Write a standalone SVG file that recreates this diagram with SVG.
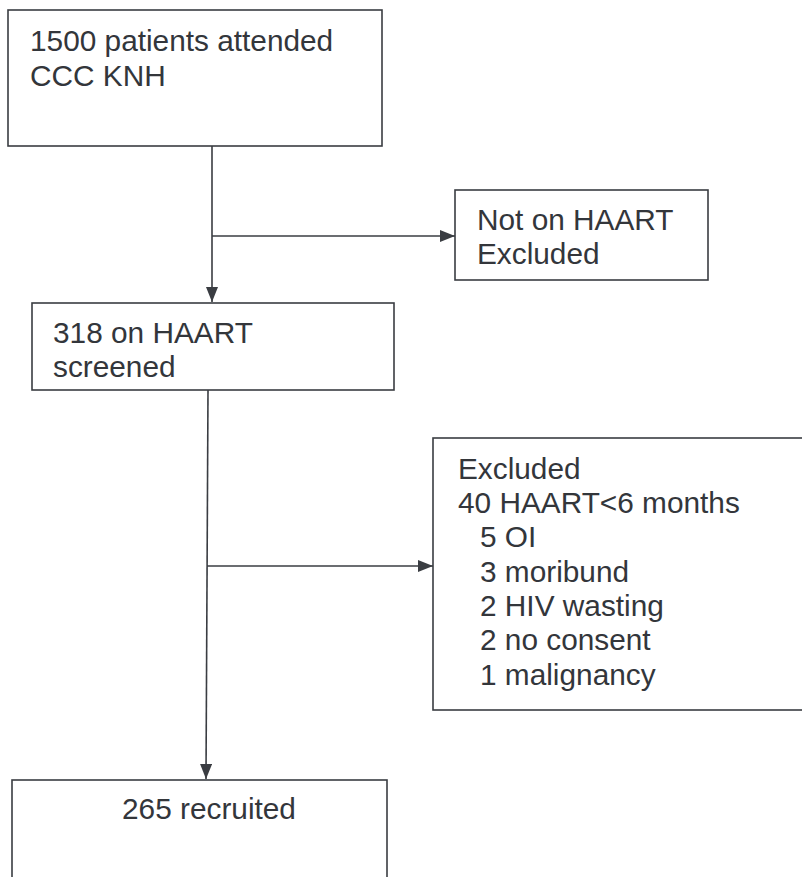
<svg xmlns="http://www.w3.org/2000/svg" width="802" height="877" viewBox="0 0 802 877">
<defs>
<style>
.box{fill:none;stroke:#3a3d42;stroke-width:1.6}
.t{font-family:"Liberation Sans",Arial,sans-serif;font-size:29.8px;fill:#33363b}
.c{fill:none;stroke:#3a3d42;stroke-width:1.6}
</style>
<marker id="ah" markerWidth="16" markerHeight="12" refX="15" refY="6" orient="auto" markerUnits="userSpaceOnUse">
<path d="M0,0 L15,6 L0,12 Z" fill="#3a3d42"/>
</marker>
</defs>
<rect width="802" height="877" fill="#ffffff"/>
<g id="connectors">
<path class="c" d="M212,146 L212,302" marker-end="url(#ah)"/>
<path class="c" d="M212,236 L455,236" marker-end="url(#ah)"/>
<path class="c" d="M208,390 L206,779" marker-end="url(#ah)"/>
<path class="c" d="M207,566 L433,566" marker-end="url(#ah)"/>
</g>
<g id="n1">
<rect class="box" x="8" y="10" width="374" height="136"/>
<text class="t" x="30" y="51">1500 patients attended</text>
<text class="t" x="30" y="86">CCC KNH</text>
</g>
<g id="n2">
<rect class="box" x="455" y="190" width="253" height="90"/>
<text class="t" x="477" y="230">Not on HAART</text>
<text class="t" x="477" y="264">Excluded</text>
</g>
<g id="n3">
<rect class="box" x="32" y="303" width="362" height="87"/>
<text class="t" x="53" y="343">318 on HAART</text>
<text class="t" x="53" y="377">screened</text>
</g>
<g id="n4">
<rect class="box" x="433" y="438" width="372" height="272"/>
<text class="t" x="458" y="479">Excluded</text>
<text class="t" x="458" y="513">40 HAART&lt;6 months</text>
<text class="t" x="480" y="547">5 OI</text>
<text class="t" x="480" y="582">3 moribund</text>
<text class="t" x="480" y="616">2 HIV wasting</text>
<text class="t" x="480" y="650">2 no consent</text>
<text class="t" x="480" y="685">1 malignancy</text>
</g>
<g id="n5">
<rect class="box" x="12" y="780" width="375" height="110"/>
<text class="t" x="122" y="819">265 recruited</text>
</g>
</svg>
